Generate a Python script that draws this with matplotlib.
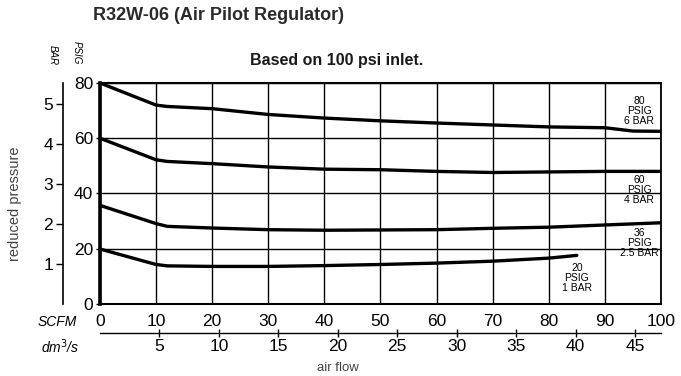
import numpy as np
import matplotlib.pyplot as plt

plt.rcParams['font.family'] = ['Liberation Sans', 'DejaVu Sans']

# air flow (SCFM) vs reduced pressure (PSIG)
scfm_80 = [0, 5, 10, 12, 20, 30, 40, 50, 60, 70, 80, 90, 95, 100]
psig_80 = [80, 76, 72, 71.5, 70.7, 68.6, 67.3, 66.3, 65.5, 64.8, 64.1, 63.8, 62.6, 62.5]

scfm_60 = [0, 10, 12, 20, 30, 40, 50, 60, 70, 80, 90, 100]
psig_60 = [60, 52.2, 51.6, 50.8, 49.6, 48.8, 48.6, 48.0, 47.6, 47.8, 48.0, 48.0]

scfm_36 = [0, 10, 12, 20, 30, 40, 50, 60, 70, 80, 90, 100]
psig_36 = [35.7, 29.1, 28.1, 27.5, 26.9, 26.7, 26.8, 26.9, 27.4, 27.8, 28.6, 29.4]

scfm_20 = [0, 10, 12, 20, 30, 40, 50, 60, 70, 80, 85]
psig_20 = [19.9, 14.3, 13.8, 13.6, 13.6, 13.9, 14.3, 14.8, 15.5, 16.6, 17.6]

scfm_ticks = [0, 10, 20, 30, 40, 50, 60, 70, 80, 90, 100]
psig_ticks = [0, 20, 40, 60, 80]
bar_ticks = [1, 2, 3, 4, 5]
dm3_ticks = [5, 10, 15, 20, 25, 30, 35, 40, 45]

PSI_PER_BAR = 14.5
DM3_PER_SCFM = 0.4719

fig = plt.figure(figsize=(6.81, 3.76), dpi=100)
ax = fig.add_axes([0.1468, 0.1915, 0.8238, 0.5878])

for xs, ys in [(scfm_80, psig_80), (scfm_60, psig_60), (scfm_36, psig_36), (scfm_20, psig_20)]:
    ax.plot(xs, ys, c='black', lw=2.4, solid_capstyle='round', zorder=3)

ax.set_xlim(0, 100)
ax.set_ylim(0, 80)
ax.set_xticks(scfm_ticks)
ax.set_yticks(psig_ticks)
ax.grid(True, color='black', lw=1.0)
ax.tick_params(axis='y', direction='out', length=3, width=1, pad=2, labelsize=12.5)
ax.tick_params(axis='x', direction='in', length=0, pad=7, labelsize=12.5)
ax.spines['left'].set_linewidth(2.6)
for s in ['top', 'bottom']:
    ax.spines[s].set_linewidth(1.5)
ax.spines['right'].set_linewidth(1.3)

# curve labels
lab = dict(fontsize=7.5, ha='center', va='center', linespacing=1.0)
ax.text(96.1, 69.7, '80\nPSIG\n6 BAR', **lab)
ax.text(96.1, 41.1, '60\nPSIG\n4 BAR', **lab)
ax.text(96.2, 21.9, '36\nPSIG\n2.5 BAR', **lab)
ax.text(85.0, 9.4, '20\nPSIG\n1 BAR', **lab)

# BAR axis on the left
bax = ax.secondary_yaxis(-0.066, functions=(lambda p: p / PSI_PER_BAR, lambda b: b * PSI_PER_BAR))
bax.set_yticks(bar_ticks)
bax.tick_params(direction='out', length=5, width=1, pad=2, labelsize=12.5)
bax.spines['left'].set_linewidth(1.2)

# dm3/s axis below
dax = ax.secondary_xaxis(-0.1315, functions=(lambda q: q * DM3_PER_SCFM, lambda d: d / DM3_PER_SCFM))
dax.set_xticks(dm3_ticks)
dax.tick_params(direction='inout', length=6, width=1, pad=1.5, labelsize=12.5)
dax.spines['bottom'].set_linewidth(1.0)

fig.text(93 / 681, 1 - 15 / 376, 'R32W-06 (Air Pilot Regulator)', fontsize=13,
         fontweight='bold', color='#2a2a2a', ha='left', va='center')
fig.text(337 / 681, 1 - 60 / 376, 'Based on 100 psi inlet.', fontsize=11.5,
         fontweight='bold', color='#1a1a1a', ha='center', va='center')
fig.text(53 / 681, 1 - 55 / 376, 'BAR', fontsize=7, style='italic', rotation=-90,
         ha='center', va='center')
fig.text(77 / 681, 1 - 53 / 376, 'PSIG', fontsize=7, style='italic', rotation=-90,
         ha='center', va='center')
fig.text(15 / 681, 1 - 204 / 376, 'reduced pressure', fontsize=10.5, rotation=90,
         color='#444444', ha='center', va='center')
fig.text(57 / 681, 1 - 322 / 376, 'SCFM', fontsize=10, style='italic', ha='center', va='center')
fig.text(60 / 681, 1 - 347 / 376, r'dm$^3$/s', fontsize=10, style='italic', ha='center', va='center')
fig.text(338 / 681, 1 - 368 / 376, 'air flow', fontsize=9.5, color='#444444', ha='center', va='center')

fig.savefig('out.png', dpi=100)
